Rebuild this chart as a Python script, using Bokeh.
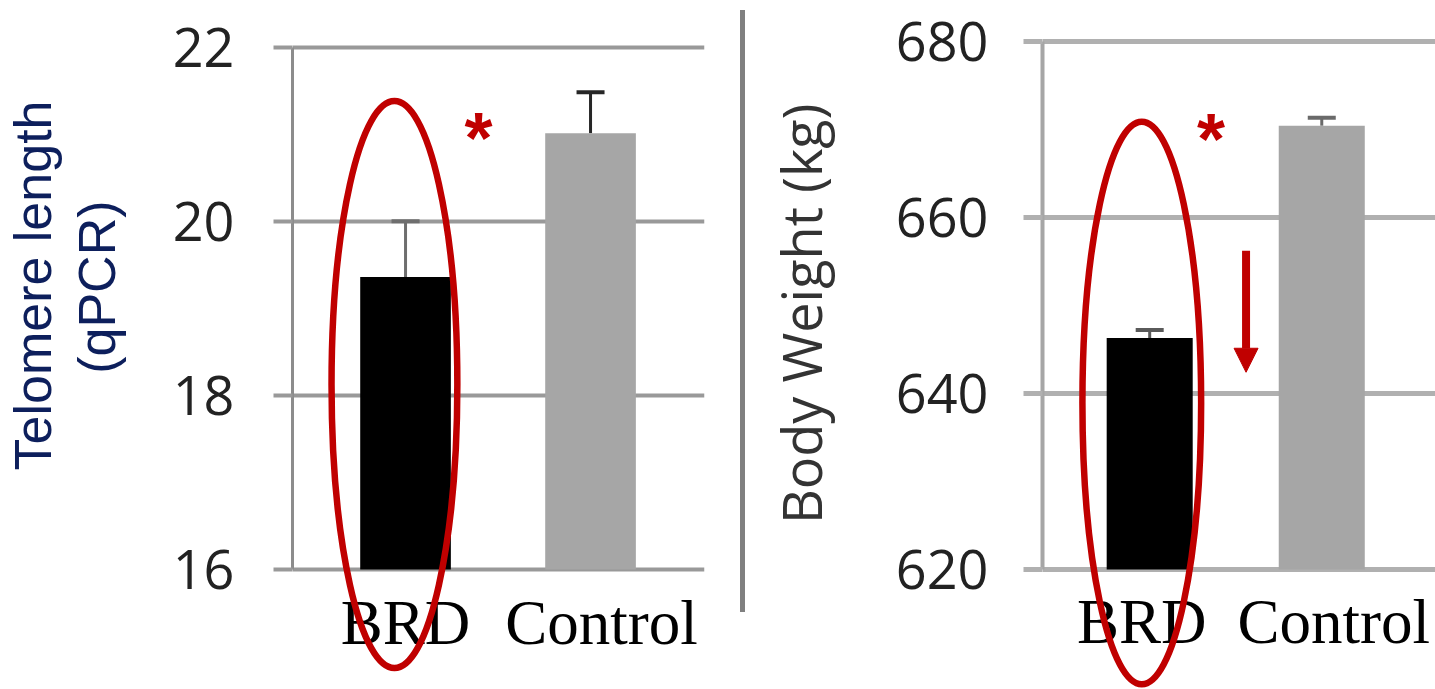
import numpy as np
from bokeh.plotting import figure
from bokeh.layouts import row
from bokeh.models import (Range1d, FixedTicker, ColumnDataSource, Whisker, TeeHead,
                          Label, Arrow, NormalHead, Div, Title)
from bokeh.embed import file_html
from bokeh.resources import INLINE

# ---- data -------------------------------------------------------------
groups = ["BRD", "Control"]
group_pos = [1, 2]
bar_colors = ["#000000", "#a6a6a6"]

telomere_mean = [19.36, 21.01]
telomere_err = [0.64, 0.47]
telomere_ticks = [16, 18, 20, 22]

weight_mean = [646.3, 670.4]
weight_err = [0.9, 0.9]
weight_ticks = [620, 640, 660, 680]

RED = "#c00000"
TICK_FONT = "Open Sans"


def panel(width, border_left, border_right, x_range, y_range, means, errs,
          ticks, bar_width, grid_color, grid_width, axis_color, axis_width,
          tick_standoff, label_shift, pad, err_colors):
    p = figure(width=width, height=689, x_range=x_range, y_range=y_range,
               output_backend="svg", toolbar_location=None, title=None,
               x_axis_location=None,
               min_border_left=border_left, min_border_right=border_right,
               min_border_top=38, min_border_bottom=0)
    p.outline_line_color = None
    p.background_fill_color = "white"
    p.border_fill_color = "white"

    base = ticks[0]
    src = ColumnDataSource(dict(
        x=group_pos, top=means, color=bar_colors, name=groups,
        base=[base] * len(groups), shift=label_shift, err_color=err_colors,
        upper=[m + e for m, e in zip(means, errs)],
    ))
    p.vbar(x="x", top="top", bottom=base, width=bar_width, color="color",
           line_color=None, source=src)
    p.add_layout(Whisker(source=src, base="x", upper="upper", lower="top",
                         dimension="height", line_color="err_color",
                         line_width=3, lower_head=None,
                         upper_head=TeeHead(size=28, line_color="err_color",
                                            line_width=4)))

    # group names under the baseline
    p.text(x="x", y="base", text="name", source=src, x_offset="shift",
           y_offset=53, text_align="center", text_baseline="alphabetic",
           text_font="Liberation Serif", text_font_size="63px",
           text_color="#000000")

    # grid
    p.xgrid.visible = False
    p.ygrid.ticker = FixedTicker(ticks=ticks)
    p.ygrid.grid_line_color = grid_color
    p.ygrid.grid_line_width = grid_width

    # y axis
    ya = p.yaxis[0]
    ya.ticker = FixedTicker(ticks=ticks)
    ya.bounds = (ticks[0], ticks[-1])
    ya.axis_line_color = axis_color
    ya.axis_line_width = axis_width
    ya.major_tick_out = 19
    ya.major_tick_in = 0
    ya.major_tick_line_color = grid_color
    ya.major_tick_line_width = grid_width
    ya.minor_tick_line_color = None
    ya.major_label_standoff = tick_standoff
    ya.major_label_text_font = TICK_FONT
    ya.major_label_text_font_size = "54px"
    ya.major_label_text_color = "#222222"
    # blank spacer between the tick numbers and the side titles
    ya.axis_label = " "
    ya.axis_label_text_font_size = "1px"
    ya.axis_label_standoff = pad
    return p


def side_title(p, text, font, size, color, offset, standoff):
    p.add_layout(Title(text=text, align="right", offset=offset,
                       standoff=standoff, text_font=font, text_font_size=size,
                       text_font_style="normal", text_color=color), "left")


def ring(p, cx, cy, w, h):
    p.ellipse(x=[cx], y=[cy], width=w, height=h, fill_color=None,
              line_color=RED, line_width=6.5)


def star(p, x, y):
    p.add_layout(Label(x=x, y=y, text="*", text_color=RED,
                       text_font="Liberation Sans", text_font_style="bold",
                       text_font_size="72px", text_align="center",
                       text_baseline="middle"))


# ---- telomere length panel -------------------------------------------
left = panel(740, 292, 36, Range1d(0.389, 2.616), Range1d(14.622, 22.098),
             telomere_mean, telomere_err, telomere_ticks, 0.49,
             "#999999", 4, "#8c8c8c", 3, 39, [0, 11], 37,
             ["#6e6e6e", "#262626"])
side_title(left, "(qPCR)", "Liberation Sans", "52px", "#0d1f5c", 162, 6)
side_title(left, "Telomere length", "Liberation Sans", "52px", "#0d1f5c", 62, 2)
ring(left, 0.940, 18.124, 0.68, 6.51)
star(left, 1.394, 20.96)

# ---- body weight panel -----------------------------------------------
right = panel(690, 297, 0, Range1d(0.377, 2.661), Range1d(606.37, 680.307),
              weight_mean, weight_err, weight_ticks, 0.5,
              "#b0b0b0", 5, "#a6a6a6", 4, 35, [-8, 12], 46,
              ["#5a5a5a", "#6a6a6a"])
side_title(right, "Body Weight (kg)", TICK_FONT, "54px", "#333333", 65, 10)
ring(right, 0.954, 638.91, 0.69, 63.9)
star(right, 1.357, 668.9)
right.add_layout(Arrow(x_start=1.56, y_start=656.2, x_end=1.56, y_end=642.4,
                       line_color=RED, line_width=8,
                       end=NormalHead(size=24, fill_color=RED, line_color=RED)))

sep = Div(width=5, height=602, margin=(10, 0, 0, 0),
          styles={"background-color": "#808080"})

layout = row(left, sep, right, spacing=0)
open("out.html", "w").write(file_html(layout, INLINE))
